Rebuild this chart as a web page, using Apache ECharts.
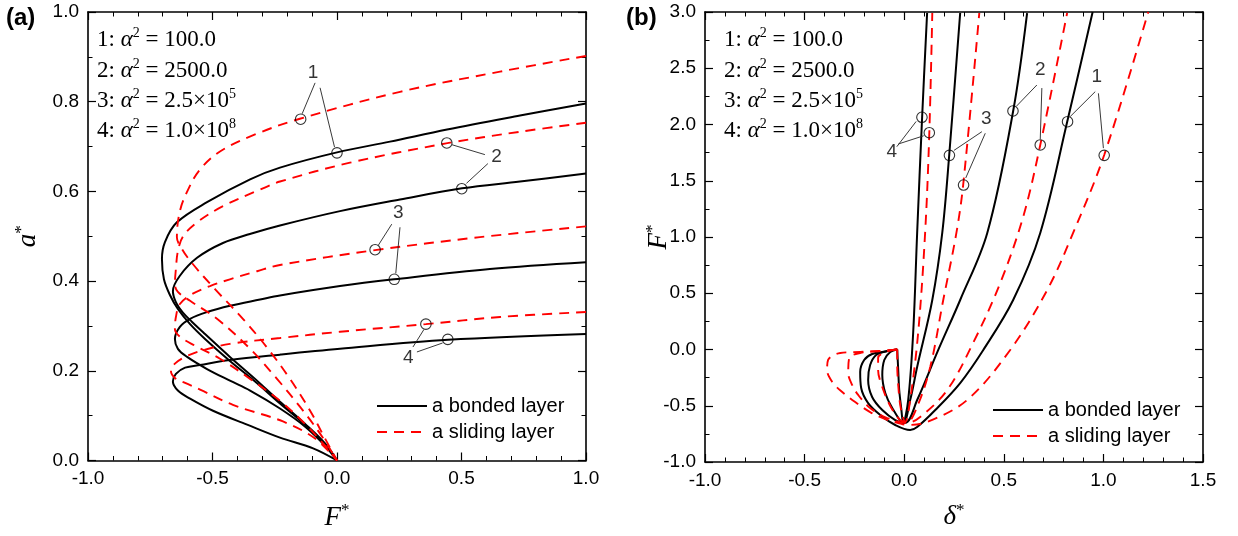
<!DOCTYPE html>
<html>
<head>
<meta charset="utf-8">
<script src="https://cdn.jsdelivr.net/npm/echarts@6/dist/echarts.min.js"></script>
<style>
html,body{margin:0;padding:0;background:#fff;}
#chart{width:1238px;height:536px;}
</style>
</head>
<body>
<div id="chart"></div>
<script>
// ---------------- DATA: panel (a)  x = F*, y = a* ----------------
const leftBonded1 = [[1.0,0.796],[0.735,0.769],[0.442,0.738],[0.213,0.711],[0,0.687],[-0.229,0.653],[-0.349,0.627],[-0.522,0.576],[-0.643,0.531],[-0.691,0.487],[-0.703,0.449],[-0.695,0.404],[-0.671,0.369],[-0.639,0.338],[-0.590,0.304],[-0.530,0.271],[-0.430,0.222],[-0.329,0.176],[-0.229,0.127],[-0.129,0.080],[-0.048,0.036],[0,0]];
const leftBonded2 = [[1.0,0.640],[0.735,0.622],[0.502,0.607],[0.253,0.582],[0.012,0.556],[-0.229,0.524],[-0.35,0.505],[-0.458,0.485],[-0.562,0.452],[-0.631,0.412],[-0.659,0.378],[-0.647,0.353],[-0.618,0.329],[-0.582,0.309],[-0.530,0.282],[-0.430,0.231],[-0.329,0.182],[-0.229,0.131],[-0.129,0.082],[-0.048,0.038],[0,0]];
const leftBonded3 = [[1.0,0.442],[0.614,0.427],[0.229,0.404],[0.012,0.389],[-0.229,0.368],[-0.309,0.359],[-0.430,0.345],[-0.522,0.331],[-0.590,0.316],[-0.631,0.298],[-0.651,0.271],[-0.639,0.249],[-0.602,0.231],[-0.522,0.204],[-0.430,0.178],[-0.349,0.156],[-0.229,0.116],[-0.129,0.076],[-0.048,0.033],[0,0]];
const leftBonded4 = [[1.0,0.282],[0.446,0.269],[0.012,0.249],[-0.229,0.236],[-0.430,0.224],[-0.550,0.213],[-0.610,0.207],[-0.647,0.193],[-0.659,0.176],[-0.639,0.156],[-0.590,0.138],[-0.498,0.111],[-0.361,0.080],[-0.229,0.051],[-0.096,0.027],[0,0]];
const leftSliding1 = [[1.0,0.902],[0.655,0.867],[0.253,0.822],[-0.149,0.762],[-0.329,0.727],[-0.470,0.689],[-0.550,0.649],[-0.598,0.604],[-0.631,0.556],[-0.643,0.498],[-0.622,0.471],[-0.582,0.440],[-0.490,0.382],[-0.378,0.316],[-0.277,0.249],[-0.189,0.182],[-0.108,0.111],[-0.048,0.049],[0,0]];
const leftSliding2 = [[1.0,0.753],[0.735,0.733],[0.438,0.707],[0.052,0.664],[-0.229,0.622],[-0.309,0.604],[-0.458,0.567],[-0.562,0.531],[-0.618,0.500],[-0.639,0.467],[-0.647,0.427],[-0.651,0.393],[-0.639,0.376],[-0.590,0.356],[-0.482,0.316],[-0.349,0.249],[-0.241,0.182],[-0.149,0.120],[-0.068,0.060],[0,0]];
const leftSliding3 = [[1.0,0.522],[0.574,0.498],[0.153,0.469],[-0.229,0.436],[-0.321,0.422],[-0.430,0.404],[-0.510,0.389],[-0.582,0.371],[-0.631,0.349],[-0.647,0.320],[-0.651,0.293],[-0.631,0.276],[-0.570,0.256],[-0.470,0.227],[-0.349,0.182],[-0.229,0.133],[-0.129,0.082],[-0.048,0.033],[0,0]];
const leftSliding4 = [[1.0,0.331],[0.655,0.320],[0.357,0.304],[0.012,0.287],[-0.229,0.273],[-0.430,0.260],[-0.550,0.244],[-0.610,0.231],[-0.651,0.216],[-0.667,0.200],[-0.651,0.184],[-0.610,0.173],[-0.550,0.158],[-0.418,0.124],[-0.217,0.087],[-0.088,0.049],[0,0]];
const leftMarkers = [[-0.146,0.761],[0,0.686],[0.441,0.708],[0.501,0.606],[0.153,0.470],[0.230,0.404],[0.357,0.304],[0.445,0.270]];
const leftTags = [[-0.096,0.864,'1'],[0.641,0.678,'2'],[0.246,0.553,'3'],[0.286,0.230,'4']];
const leftLeaders = [
  [[-0.088,0.842],[-0.140,0.773]], [[-0.068,0.831],[-0.010,0.699]],
  [[0.594,0.682],[0.462,0.704]], [[0.606,0.662],[0.520,0.618]],
  [[0.220,0.527],[0.166,0.480]], [[0.253,0.520],[0.236,0.417]],
  [[0.305,0.253],[0.349,0.292]], [[0.321,0.242],[0.424,0.262]]
];

// ---------------- DATA: panel (b)  x = delta*, y = F* ----------------
const rightBonded1 = [[-0.035,0],[-0.095,-0.018],[-0.161,-0.04],[-0.201,-0.093],[-0.221,-0.2],[-0.216,-0.342],[-0.181,-0.476],[-0.120,-0.582],[-0.045,-0.671],[0.030,-0.716],[0.065,-0.689],[0.156,-0.538],[0.281,-0.298],[0.397,-0.004],[0.547,0.440],[0.683,1.036],[0.818,2.022],[0.946,3.0]];
const rightBonded2 = [[-0.035,0],[-0.095,-0.018],[-0.141,-0.049],[-0.171,-0.138],[-0.181,-0.271],[-0.161,-0.422],[-0.110,-0.538],[-0.045,-0.627],[0.005,-0.653],[0.065,-0.449],[0.171,-0.004],[0.281,0.44],[0.417,1.036],[0.547,2.12],[0.617,2.991]];
const rightBonded3 = [[-0.035,0],[-0.070,-0.022],[-0.100,-0.093],[-0.110,-0.227],[-0.095,-0.387],[-0.060,-0.52],[-0.005,-0.653],[0.030,-0.449],[0.065,-0.156],[0.141,0.44],[0.191,1.036],[0.226,1.729],[0.281,2.991]];
const rightBonded4 = [[-0.035,0],[-0.030,-0.182],[-0.025,-0.36],[-0.015,-0.52],[-0.005,-0.653],[0.020,-0.449],[0.045,0.147],[0.065,1.036],[0.090,2.067],[0.115,2.991]];
const rightSliding1 = [[-0.035,0],[-0.120,-0.013],[-0.221,-0.022],[-0.321,-0.031],[-0.382,-0.093],[-0.387,-0.182],[-0.361,-0.289],[-0.311,-0.378],[-0.246,-0.467],[-0.171,-0.556],[-0.095,-0.618],[-0.030,-0.653],[0.015,-0.671],[0.115,-0.644],[0.316,-0.449],[0.532,-0.004],[0.718,0.529],[0.848,1.036],[1.004,1.729],[1.225,3.0]];
const rightSliding2 = [[-0.035,0],[-0.120,-0.013],[-0.221,-0.031],[-0.276,-0.076],[-0.281,-0.209],[-0.261,-0.316],[-0.231,-0.404],[-0.171,-0.52],[-0.085,-0.609],[0.015,-0.653],[0.080,-0.6],[0.216,-0.36],[0.346,0.058],[0.482,0.591],[0.597,1.178],[0.683,1.818],[0.818,2.991]];
const rightSliding3 = [[-0.035,0],[-0.095,-0.022],[-0.131,-0.076],[-0.131,-0.182],[-0.110,-0.333],[-0.070,-0.502],[-0.020,-0.627],[0.015,-0.644],[0.065,-0.509],[0.131,-0.153],[0.196,0.44],[0.262,1.036],[0.296,1.462],[0.377,2.991]];
const rightSliding4 = [[-0.035,0],[-0.035,-0.138],[-0.030,-0.316],[-0.020,-0.493],[-0.005,-0.609],[0.005,-0.644],[0.030,-0.449],[0.070,0.147],[0.105,1.036],[0.126,1.924],[0.141,2.991]];
const rightMarkers = [[0.089,2.064],[0.126,1.927],[0.227,1.726],[0.298,1.462],[0.546,2.120],[0.683,1.818],[0.820,2.025],[1.004,1.726]];
const rightTags = [[-0.062,1.758,'4'],[0.412,2.055,'3'],[0.683,2.484,'2'],[0.967,2.420,'1']];
const rightLeaders = [
  [[-0.037,1.803],[0.060,2.027]], [[-0.029,1.827],[0.098,1.900]],
  [[0.390,1.936],[0.250,1.770]], [[0.407,1.922],[0.309,1.525]],
  [[0.666,2.351],[0.562,2.160]], [[0.691,2.324],[0.683,1.870]],
  [[0.959,2.292],[0.833,2.070]], [[0.975,2.277],[1.000,1.790]]
];

// axis settings
const leftX = {min:-1, max:1, interval:0.5, minor:5};
const leftY = {min:0, max:1, interval:0.2, minor:2};
const rightX = {min:-1, max:1.5, interval:0.5, minor:5};
const rightY = {min:-1, max:3, interval:0.5, minor:2};
const alphaLines = [['1','100.0',''],['2','2500.0',''],['3','2.5×10','5'],['4','1.0×10','8']];
const legendNames = ['a bonded layer','a sliding layer'];

// ---------------- BUILD ----------------
const SANS = 'Arial, "Liberation Sans", Helvetica, sans-serif';
const SERIF = '"Times New Roman", "Liberation Serif", serif';

const nameRich = {
  i:{fontFamily:SERIF, fontStyle:'italic', fontSize:27, lineHeight:30, color:'#000'},
  s:{fontFamily:SERIF, fontSize:17, lineHeight:14, verticalAlign:'top', color:'#000'}
};

function axis(gridIndex, cfg, position, showLabel, name, nameGap){
  const o = {
    type:'value', gridIndex, position, min:cfg.min, max:cfg.max, interval:cfg.interval,
    axisLine:{show:true, onZero:false, lineStyle:{color:'#000', width:1.6}},
    axisTick:{show:true, inside:true, length:8, lineStyle:{color:'#000', width:1.2}},
    minorTick:{show:true, splitNumber:cfg.minor, length:4.5, lineStyle:{color:'#000', width:1}},
    splitLine:{show:false}, minorSplitLine:{show:false},
    axisLabel:{show:showLabel, color:'#000', fontFamily:SANS, fontSize:19, margin:9,
      formatter:v=>(Math.round(v*10)/10).toFixed(1)}
  };
  if(name){
    o.name = name; o.nameLocation='middle'; o.nameGap=nameGap;
    o.nameMoveOverlap = false;
    o.nameTextStyle = {rich:nameRich};
  }
  return o;
}

const grids = [
  {left:88, top:12, width:498, height:450},
  {left:705, top:12, width:498, height:450}
];

const xAxes = [
  axis(0, leftX, 'bottom', true, '{i|F}{s|*}', 42),
  axis(0, leftX, 'top', false),
  axis(1, rightX, 'bottom', true, '{i|δ}{s|*}', 40),
  axis(1, rightX, 'top', false)
];
const yAxes = [
  axis(0, leftY, 'left', true, '{i|a}{s|*}', 45),
  axis(0, leftY, 'right', false),
  axis(1, rightY, 'left', true, '{i|F}{s|*}', 31),
  axis(1, rightY, 'right', false)
];

const series = [];
function curve(data, xi, yi, sliding){
  series.push({
    type:'line', xAxisIndex:xi, yAxisIndex:yi, data, showSymbol:false, symbol:'none',
    smooth:0.35, clip:true, silent:true, z:2,
    lineStyle: sliding ? {color:'#ff0000', width:1.9, type:[10,7]} : {color:'#000', width:2}
  });
}
[leftBonded1,leftBonded2,leftBonded3,leftBonded4].forEach(d=>curve(d,0,0,false));
[leftSliding1,leftSliding2,leftSliding3,leftSliding4].forEach(d=>curve(d,0,0,true));
[rightBonded1,rightBonded2,rightBonded3,rightBonded4].forEach(d=>curve(d,2,2,false));
[rightSliding1,rightSliding2,rightSliding3,rightSliding4].forEach(d=>curve(d,2,2,true));

function annot(markers, tags, leaders, xi, yi){
  series.push({
    type:'lines', coordinateSystem:'cartesian2d', xAxisIndex:xi, yAxisIndex:yi, silent:true, z:3,
    lineStyle:{color:'#222', width:0.9, opacity:1, curveness:0},
    data: leaders.map(c=>({coords:c}))
  });
  series.push({
    type:'scatter', xAxisIndex:xi, yAxisIndex:yi, data:markers, symbol:'circle', symbolSize:10.5,
    silent:true, z:4, itemStyle:{color:'rgba(255,255,255,0)', borderColor:'#000', borderWidth:1.1}
  });
  series.push({
    type:'scatter', xAxisIndex:xi, yAxisIndex:yi, data:tags.map(t=>({value:[t[0],t[1]], name:t[2]})),
    symbol:'circle', symbolSize:1, silent:true, z:5, itemStyle:{color:'rgba(0,0,0,0)'},
    label:{show:true, position:'inside', formatter:p=>p.name, color:'#000', fontFamily:SANS, fontSize:19}
  });
}
annot(leftMarkers, leftTags, leftLeaders, 0, 0);
annot(rightMarkers, rightTags, rightLeaders, 2, 2);

// graphics: panel labels, alpha lines, legends
const annRich = {
  n:{fontFamily:SERIF, fontSize:23, lineHeight:28, color:'#000'},
  g:{fontFamily:SERIF, fontStyle:'italic', fontSize:23, lineHeight:28, color:'#000'},
  s:{fontFamily:SERIF, fontSize:14, lineHeight:16, verticalAlign:'top', color:'#000'}
};
const graphic = [];
graphic.push({type:'text', x:6, y:18, style:{text:'(a)', font:'bold 24px '+SANS, fill:'#000', verticalAlign:'middle'}});
graphic.push({type:'text', x:626, y:18, style:{text:'(b)', font:'bold 24px '+SANS, fill:'#000', verticalAlign:'middle'}});
const rowY = [40,71,101,131];
[97, 724].forEach(x0=>{
  alphaLines.forEach((r,i)=>{
    let t = '{n|'+r[0]+': }{g|α}{s|2}{n| = '+r[1]+'}';
    if(r[2]) t += '{s|'+r[2]+'}';
    graphic.push({type:'text', x:x0, y:rowY[i], style:{text:t, rich:annRich, verticalAlign:'middle', align:'left'}});
  });
});
const legendPos = [{x:377, y:406}, {x:993, y:410}];
legendPos.forEach(p=>{
  graphic.push({type:'line', shape:{x1:p.x, y1:p.y, x2:p.x+50, y2:p.y}, style:{stroke:'#000', lineWidth:2}});
  graphic.push({type:'text', x:p.x+55, y:p.y, style:{text:legendNames[0], font:'20px '+SANS, fill:'#000', verticalAlign:'middle'}});
  graphic.push({type:'line', shape:{x1:p.x, y1:p.y+26, x2:p.x+50, y2:p.y+26}, style:{stroke:'#ff0000', lineWidth:2, lineDash:[10,7]}});
  graphic.push({type:'text', x:p.x+55, y:p.y+26, style:{text:legendNames[1], font:'20px '+SANS, fill:'#000', verticalAlign:'middle'}});
});

const chart = echarts.init(document.getElementById('chart'), null, {renderer:'canvas'});
chart.setOption({
  animation:false,
  backgroundColor:'#fff',
  grid:grids, xAxis:xAxes, yAxis:yAxes, series, graphic
});
</script>
</body>
</html>
